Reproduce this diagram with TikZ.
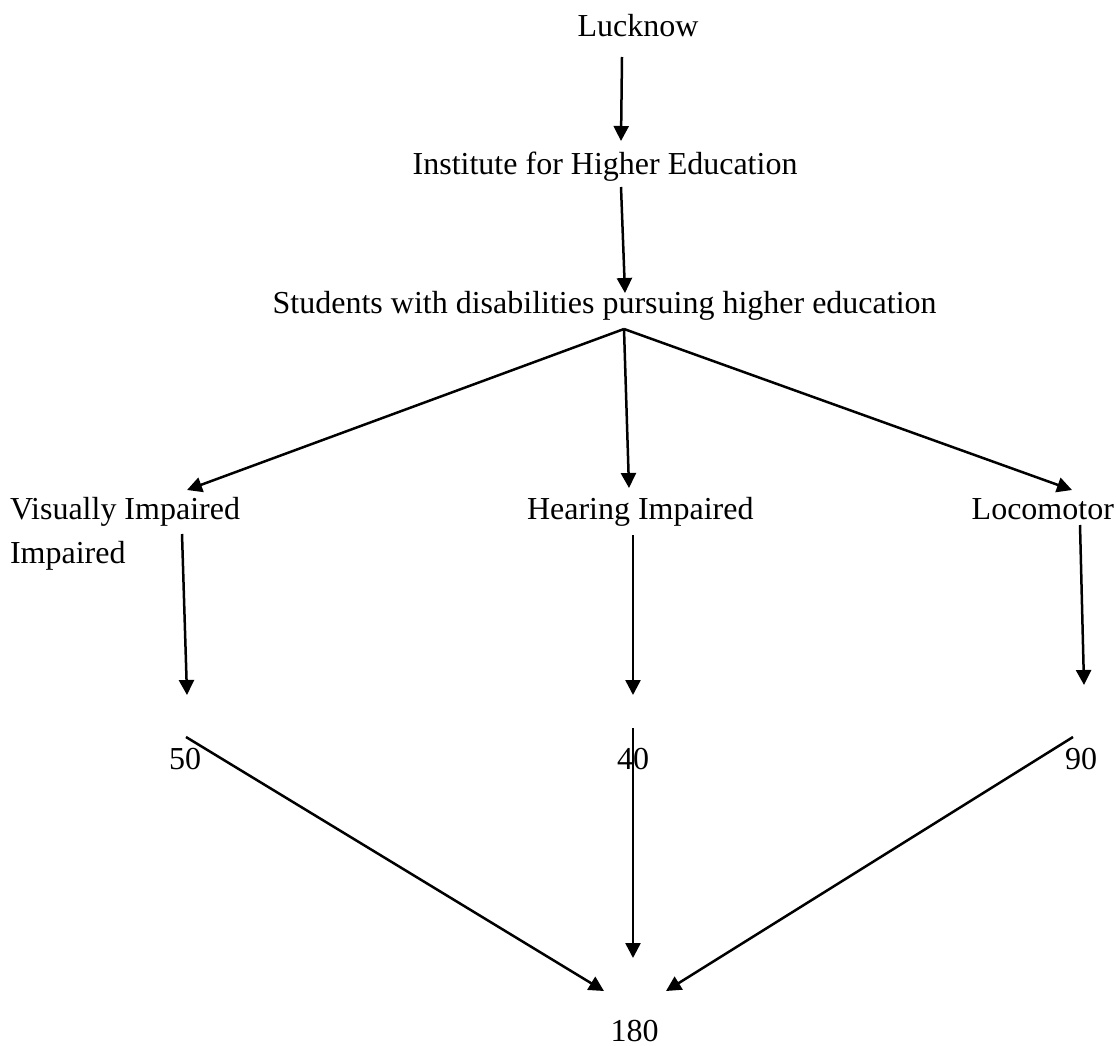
\documentclass[tikz,border=0pt]{standalone}
\usepackage{fontspec}
\setmainfont{Liberation Serif}
\usetikzlibrary{arrows.meta}
\begin{document}
\begin{tikzpicture}[x=1pt,y=-1pt,
  lbl/.style={inner sep=0pt, outer sep=0pt, anchor=base west, font=\fontsize{32}{44}\selectfont},
  conn/.style={line width=2.5pt, -{Triangle[length=15pt,width=15pt]}}]
\useasboundingbox (0,0) rectangle (1116,1046);
% text nodes
\node[lbl] (luck) at (577.5,37) {Lucknow};
\node[lbl] (inst) at (412.7,175) {Institute for Higher Education};
\node[lbl] (stud) at (272.7,313) {Students with disabilities pursuing higher education};
\node[lbl, align=left] (vis) at (10,563) {Visually Impaired\\Impaired};
\node[lbl] (hear) at (527,519) {Hearing Impaired};
\node[lbl] (loco) at (971.7,519) {Locomotor};
\node[lbl] (n50) at (169,769) {50};
\node[lbl] (n40) at (617,769) {40};
\node[lbl] (n90) at (1065,769) {90};
\node[lbl] (n180) at (610.7,1041) {180};
% connector end points
\coordinate (a1s) at (622,57);   \coordinate (a1e) at (621,141);
\coordinate (a2s) at (621,187);  \coordinate (a2e) at (625,293);
\coordinate (apex) at (624,329);
\coordinate (tvis) at (187,490); \coordinate (thear) at (629,488); \coordinate (tloco) at (1072,490);
\coordinate (vs) at (182,534);   \coordinate (ve) at (187,695);
\coordinate (hs) at (633,535);   \coordinate (he) at (633,695);
\coordinate (ls) at (1080,525);  \coordinate (le) at (1084,685);
\coordinate (fs) at (186,737);   \coordinate (fe) at (604,991);
\coordinate (gs) at (633,728);   \coordinate (ge) at (633,958);
\coordinate (ns) at (1073,737);  \coordinate (ne) at (666,991);
% connectors
\draw[conn] (a1s) -- (a1e);
\draw[conn] (a2s) -- (a2e);
\draw[conn] (apex) -- (tvis);
\draw[conn] (apex) -- (thear);
\draw[conn] (apex) -- (tloco);
\draw[conn] (vs) -- (ve);
\draw[conn] (hs) -- (he);
\draw[conn] (ls) -- (le);
\draw[conn] (fs) -- (fe);
\draw[conn] (gs) -- (ge);
\draw[conn] (ns) -- (ne);
\end{tikzpicture}
\end{document}
